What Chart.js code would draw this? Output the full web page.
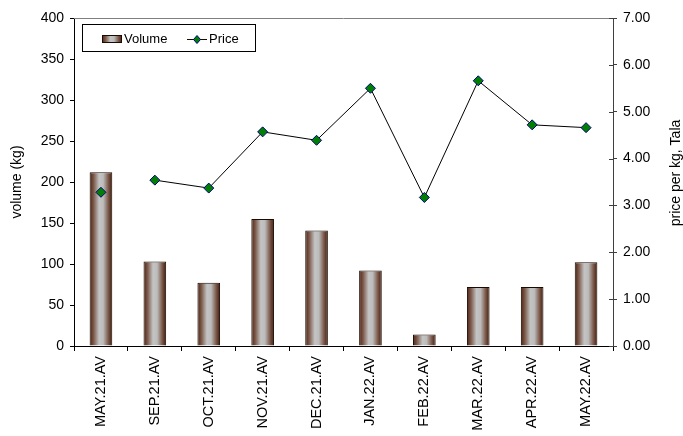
<!DOCTYPE html>
<html>
<head>
<meta charset="utf-8">
<script src="https://cdn.jsdelivr.net/npm/chart.js@4"></script>
<style>
  html, body { margin: 0; padding: 0; background: #fff; }
  #wrap { width: 683px; height: 436px; }
</style>
</head>
<body>
<div id="wrap"><canvas id="chart" width="683" height="436"></canvas></div>
<script>
// Data
const labels = ['MAY.21.AV', 'SEP.21.AV', 'OCT.21.AV', 'NOV.21.AV', 'DEC.21.AV',
    'JAN.22.AV', 'FEB.22.AV', 'MAR.22.AV', 'APR.22.AV', 'MAY.22.AV'];
const volume = [212, 103, 77, 155, 141, 92, 14, 72, 72, 102];
const price = [3.28, 3.54, 3.37, 4.57, 4.39, 5.50, 3.17, 5.66, 4.72, 4.66];
const volumeTicks = [0, 50, 100, 150, 200, 250, 300, 350, 400];
const priceTicks = [0, 1, 2, 3, 4, 5, 6, 7];

const FONT = 'Arial, "Liberation Sans", sans-serif';

function barGradient(ctx, x0, x1) {
    const g = ctx.createLinearGradient(x0, 0, x1, 0);
    g.addColorStop(0, '#4a2212');
    g.addColorStop(0.18, '#7d5b4c');
    g.addColorStop(0.42, '#c4c4c4');
    g.addColorStop(0.6, '#bcbcbc');
    g.addColorStop(0.82, '#7d5b4c');
    g.addColorStop(1, '#3e1a0b');
    return g;
}

// bars get a horizontal shading, like the cylinder look (own options per bar)
const barShade = {
    id: 'barShade',
    beforeDatasetsDraw(chart) {
        const meta = chart.getDatasetMeta(1);
        meta.data.forEach(el => {
            const x0 = el.x - el.width / 2;
            el.options = Object.assign({}, el.options, {
                backgroundColor: barGradient(chart.ctx, x0, x0 + el.width)
            });
        });
    }
};

// top frame line, right axis title and legend box
const extras = {
    id: 'extras',
    beforeDatasetsDraw(chart) {
        const { ctx, chartArea } = chart;
        ctx.save();
        ctx.strokeStyle = '#808080';
        ctx.lineWidth = 1;
        ctx.beginPath();
        ctx.moveTo(chartArea.left, chartArea.top + 0.5);
        ctx.lineTo(chartArea.right, chartArea.top + 0.5);
        ctx.stroke();
        // right axis ticks cross the axis line
        const y1 = chart.scales.y1;
        ctx.strokeStyle = '#404040';
        ctx.beginPath();
        y1.ticks.forEach(t => {
            const y = Math.round(y1.getPixelForValue(t.value)) + 0.5;
            ctx.moveTo(chartArea.right - 4, y);
            ctx.lineTo(chartArea.right, y);
        });
        ctx.stroke();
        ctx.restore();
    },
    afterDraw(chart) {
        const { ctx } = chart;
        ctx.save();
        // right title, reading upward
        ctx.translate(676, 173);
        ctx.rotate(-Math.PI / 2);
        ctx.font = '14px ' + FONT;
        ctx.fillStyle = '#000';
        ctx.textAlign = 'center';
        ctx.textBaseline = 'middle';
        ctx.fillText('price per kg, Tala', 0, 0);
        ctx.restore();

        // legend
        ctx.save();
        ctx.fillStyle = '#fff';
        ctx.fillRect(82, 24, 174, 28);
        ctx.strokeStyle = '#000';
        ctx.lineWidth = 1;
        ctx.strokeRect(82.5, 24.5, 173, 27);
        ctx.fillStyle = barGradient(ctx, 102, 122);
        ctx.fillRect(102, 35, 20, 8);
        ctx.strokeStyle = '#1a0a00';
        ctx.strokeRect(102.5, 35.5, 19, 7);
        ctx.font = '13px ' + FONT;
        ctx.fillStyle = '#000';
        ctx.textBaseline = 'middle';
        ctx.fillText('Volume', 124, 39);
        ctx.beginPath();
        ctx.moveTo(187, 39.5);
        ctx.lineTo(207, 39.5);
        ctx.stroke();
        ctx.beginPath();
        ctx.moveTo(197, 35.5);
        ctx.lineTo(200.5, 39.5);
        ctx.lineTo(197, 43.5);
        ctx.lineTo(193.5, 39.5);
        ctx.closePath();
        ctx.fillStyle = '#008000';
        ctx.fill();
        ctx.strokeStyle = '#000080';
        ctx.stroke();
        ctx.fillStyle = '#000';
        ctx.fillText('Price', 209, 39);
        ctx.restore();
    }
};

const ctx = document.getElementById('chart').getContext('2d');
new Chart(ctx, {
    data: {
        labels: labels,
        datasets: [
            {
                type: 'line',
                label: 'Price',
                data: price,
                yAxisID: 'y1',
                borderColor: '#000',
                borderWidth: 1,
                pointStyle: 'rectRot',
                pointRadius: 5,
                pointBackgroundColor: '#008000',
                pointBorderColor: '#000080',
                pointBorderWidth: 1,
                tension: 0,
                segment: {
                    borderColor: c => c.p0DataIndex === 0 ? 'rgba(0,0,0,0)' : '#000'
                }
            },
            {
                type: 'bar',
                label: 'Volume',
                data: volume,
                yAxisID: 'y',
                backgroundColor: '#a0a0a0',
                borderColor: '#1a0a00',
                borderWidth: 1,
                categoryPercentage: 1,
                barPercentage: 0.42
            }
        ]
    },
    options: {
        responsive: false,
        devicePixelRatio: 1,
        animation: false,
        layout: { padding: { top: 18, left: 0, right: 0, bottom: 0 } },
        plugins: { legend: { display: false }, tooltip: { enabled: false } },
        scales: {
            x: {
                grid: { display: true, drawOnChartArea: false, offset: true, tickLength: 5, color: '#000' },
                border: { color: '#000' },
                ticks: { minRotation: 90, maxRotation: 90, padding: 5, color: '#000', font: { family: FONT, size: 14.5 } },
                afterFit: s => { s.height = 90; }
            },
            y: {
                position: 'left',
                min: 0,
                max: 400,
                afterBuildTicks: s => { s.ticks = volumeTicks.map(v => ({ value: v })); },
                grid: { drawOnChartArea: false, tickLength: 4, color: '#000' },
                border: { color: '#000' },
                ticks: { padding: 6, color: '#000', font: { family: FONT, size: 14 } },
                title: { display: true, text: 'volume (kg)', color: '#000', padding: { top: 9, bottom: 0 }, font: { family: FONT, size: 14 } },
                afterFit: s => { s.width = 74; }
            },
            y1: {
                position: 'right',
                min: 0,
                max: 7,
                afterBuildTicks: s => { s.ticks = priceTicks.map(v => ({ value: v })); },
                grid: { drawOnChartArea: false, tickLength: 4, color: '#404040' },
                border: { color: '#404040' },
                ticks: { padding: 6, color: '#000', font: { family: FONT, size: 14 }, callback: v => v.toFixed(2) },
                afterFit: s => { s.width = 70; }
            }
        }
    },
    plugins: [barShade, extras]
});
</script>
</body>
</html>
